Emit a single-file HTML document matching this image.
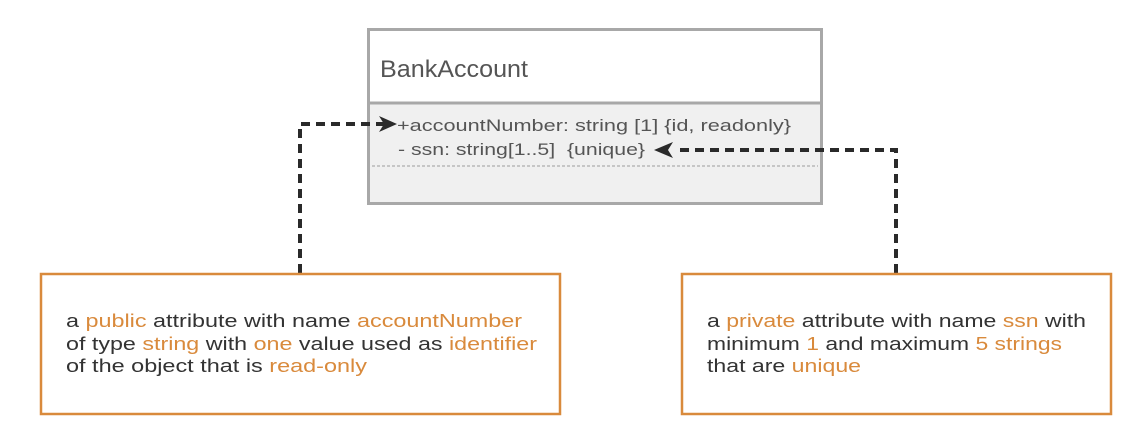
<!DOCTYPE html>
<html><head><meta charset="utf-8"><style>
html,body{margin:0;padding:0;background:#fff;}
svg{display:block;}
text{font-family:"Liberation Sans",sans-serif;}
</style></head><body>
<svg width="1143" height="431" viewBox="0 0 1143 431" xmlns="http://www.w3.org/2000/svg">
<rect x="0" y="0" width="1143" height="431" fill="#fff"/>
<rect x="368.5" y="29.5" width="453" height="174" fill="#f0f0f0" stroke="#a8a8a8" stroke-width="3"/>
<rect x="370" y="31" width="450" height="71" fill="#fff"/>
<line x1="368" y1="103" x2="822" y2="103" stroke="#a8a8a8" stroke-width="3"/>
<line x1="372" y1="166" x2="818" y2="166" stroke="#b8b8b8" stroke-width="1.5" stroke-dasharray="3,2"/>
<text x="380" y="77" font-size="24" fill="#555" textLength="148" lengthAdjust="spacingAndGlyphs">BankAccount</text>
<text x="397" y="131" font-size="17" fill="#555" textLength="394" lengthAdjust="spacingAndGlyphs">+accountNumber: string [1] {id, readonly}</text>
<text x="398" y="155" font-size="17" fill="#555" textLength="247" lengthAdjust="spacingAndGlyphs">- ssn: string[1..5]&#160;&#160;{unique}</text>
<path d="M300 273 V124 H384" fill="none" stroke="#2a2a2a" stroke-width="4" stroke-dasharray="9,6"/>
<polygon points="397,124 379,116 384,124 379,132" fill="#2a2a2a"/>
<path d="M896 273 V150 H674" fill="none" stroke="#2a2a2a" stroke-width="4" stroke-dasharray="9,6"/>
<polygon points="654,150 673,142 668,150 673,158" fill="#2a2a2a"/>
<rect x="41" y="274" width="519" height="140" fill="#fff" stroke="#d98a3c" stroke-width="2.5"/>
<rect x="682" y="274" width="429" height="140" fill="#fff" stroke="#d98a3c" stroke-width="2.5"/>
<g font-size="18.5" fill="#333">
<text x="66" y="327" textLength="456" lengthAdjust="spacingAndGlyphs">a <tspan fill="#d98a3c">public</tspan> attribute with name <tspan fill="#d98a3c">accountNumber</tspan></text>
<text x="66" y="350" textLength="471" lengthAdjust="spacingAndGlyphs">of type <tspan fill="#d98a3c">string</tspan> with <tspan fill="#d98a3c">one</tspan> value used as <tspan fill="#d98a3c">identifier</tspan></text>
<text x="66" y="372" textLength="301" lengthAdjust="spacingAndGlyphs">of the object that is <tspan fill="#d98a3c">read-only</tspan></text>
<text x="707" y="327" textLength="379" lengthAdjust="spacingAndGlyphs">a <tspan fill="#d98a3c">private</tspan> attribute with name <tspan fill="#d98a3c">ssn</tspan> with</text>
<text x="707" y="350" textLength="355" lengthAdjust="spacingAndGlyphs">minimum <tspan fill="#d98a3c">1</tspan> and maximum <tspan fill="#d98a3c">5 strings</tspan></text>
<text x="707" y="372" textLength="154" lengthAdjust="spacingAndGlyphs">that are <tspan fill="#d98a3c">unique</tspan></text>
</g>
</svg>
</body></html>
